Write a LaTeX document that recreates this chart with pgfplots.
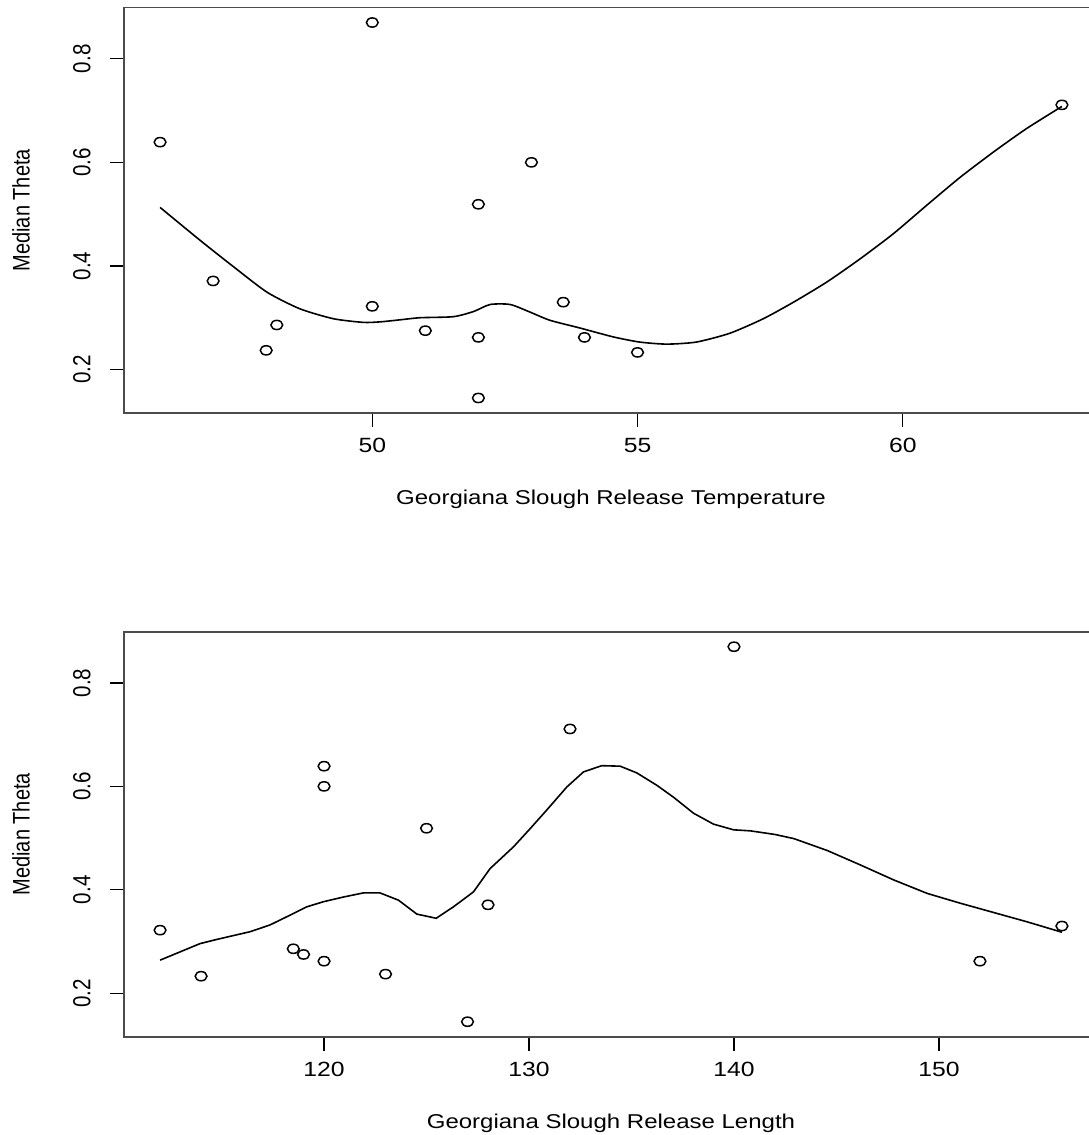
\documentclass[border=0pt]{standalone}
\usepackage{pgfplots}
\usepackage{pgfplotstable}
\pgfplotsset{compat=1.18}
\usepackage{fontspec}
\setmainfont{Liberation Sans}

\pgfplotstableread{
x y
46 0.639
47 0.371
48.2 0.286
48 0.237
50 0.870
50 0.322
51 0.275
52 0.519
52 0.262
52 0.145
53 0.600
53.6 0.330
54 0.262
55 0.233
63 0.711
}\toppts

\pgfplotstableread{
x y
46 0.513
46.76 0.449
47.39 0.398
48.02 0.349
48.64 0.317
49.27 0.298
49.83 0.291
50.15 0.292
50.53 0.296
50.9 0.300
51.53 0.302
51.91 0.312
52.22 0.3255
52.6 0.3255
52.97 0.311
53.35 0.295
53.92 0.280
54.54 0.263
55.04 0.253
55.55 0.2490
56.11 0.2530
56.74 0.2700
57.37 0.298
57.94 0.330
58.57 0.369
59.2 0.414
59.82 0.462
60.45 0.517
61.08 0.571
61.71 0.620
62.33 0.665
63 0.708
}\topcurve

\pgfplotstableread{
x y
112 0.322
114 0.233
118.5 0.286
119 0.275
120 0.639
120 0.600
120 0.262
123 0.237
125 0.519
127 0.145
128 0.371
132 0.711
140 0.870
152 0.262
156 0.330
}\botpts

\pgfplotstableread{
x y
112 0.264
113.95 0.296
114.76 0.304
116.39 0.319
117.36 0.332
118.34 0.351
119.15 0.367
119.97 0.377
120.94 0.386
121.92 0.394
122.73 0.394
123.63 0.380
124.53 0.353
125.47 0.345
126.31 0.367
127.29 0.396
128.1 0.441
129.24 0.483
130.05 0.518
130.86 0.554
131.85 0.599
132.66 0.628
133.55 0.640
134.45 0.639
135.26 0.626
136.24 0.602
137.05 0.579
138.03 0.548
139.0 0.527
139.98 0.516
140.8 0.514
142.0 0.507
142.92 0.499
144.55 0.476
146.17 0.448
147.8 0.419
149.43 0.393
151.05 0.374
152.68 0.356
154.31 0.338
156 0.318
}\botcurve

\pgfplotsset{
  rplot/.style={
    scale only axis,
    width=487pt,
    axis line style={draw=black!70, line width=0.9pt},
    tick align=outside,
    major tick length=7pt,
    xtick pos=bottom,
    ytick pos=left,
    tick style={black, line width=0.6pt},
    ymin=0.116, ymax=0.899,
    ytick={0.2,0.4,0.6,0.8},
    yticklabels={0.2,0.4,0.6,0.8},
    /pgf/number format/assume math mode=true,
    tick label style={font=\fontsize{10.3}{12}\selectfont},
    xticklabel style={yshift=-2pt, xscale=1.2},
    yticklabel style={xshift=-5.5pt, xscale=1.2, rotate=90, anchor=south},
    every axis x label/.style={at={(axis description cs:0.5,0)}, yshift=-35pt, xscale=1.2, anchor=north, font=\fontsize{10}{12}\selectfont},
    every axis y label/.style={at={(axis description cs:0,0.5)}, xshift=-51.5pt, xscale=1.2, rotate=90, anchor=center, font=\fontsize{10}{12}\selectfont},
    ylabel={Median Theta},
    clip=false,
  },
  rpts/.style={only marks, mark=o, mark size=2.3pt, mark options={xscale=1.28, line width=0.75pt, black}},
  rline/.style={black, line width=0.8pt, no marks},
}

\begin{document}
\begin{tikzpicture}
\begin{axis}[rplot,
  at={(62pt,-206.5pt)}, anchor=south west,
  height=202.75pt,
  xmin=45.32, xmax=63.68,
  xtick={50,55,60},
  xlabel={Georgiana Slough Release Temperature},
]
\addplot[rpts] table[x=x,y=y] {\toppts};
\addplot[rline, smooth, tension=0.4] table[x=x,y=y] {\topcurve};
\end{axis}

\begin{axis}[rplot,
  at={(62pt,-518.35pt)}, anchor=south west,
  height=202.5pt,
  xmin=110.24, xmax=157.76,
  xtick={120,130,140,150},
  xlabel={Georgiana Slough Release Length},
]
\addplot[rpts] table[x=x,y=y] {\botpts};
\addplot[rline] table[x=x,y=y] {\botcurve};
\end{axis}
\pgfresetboundingbox
\useasboundingbox (0,0) rectangle (544pt,-567.5pt);
\end{tikzpicture}
\end{document}
